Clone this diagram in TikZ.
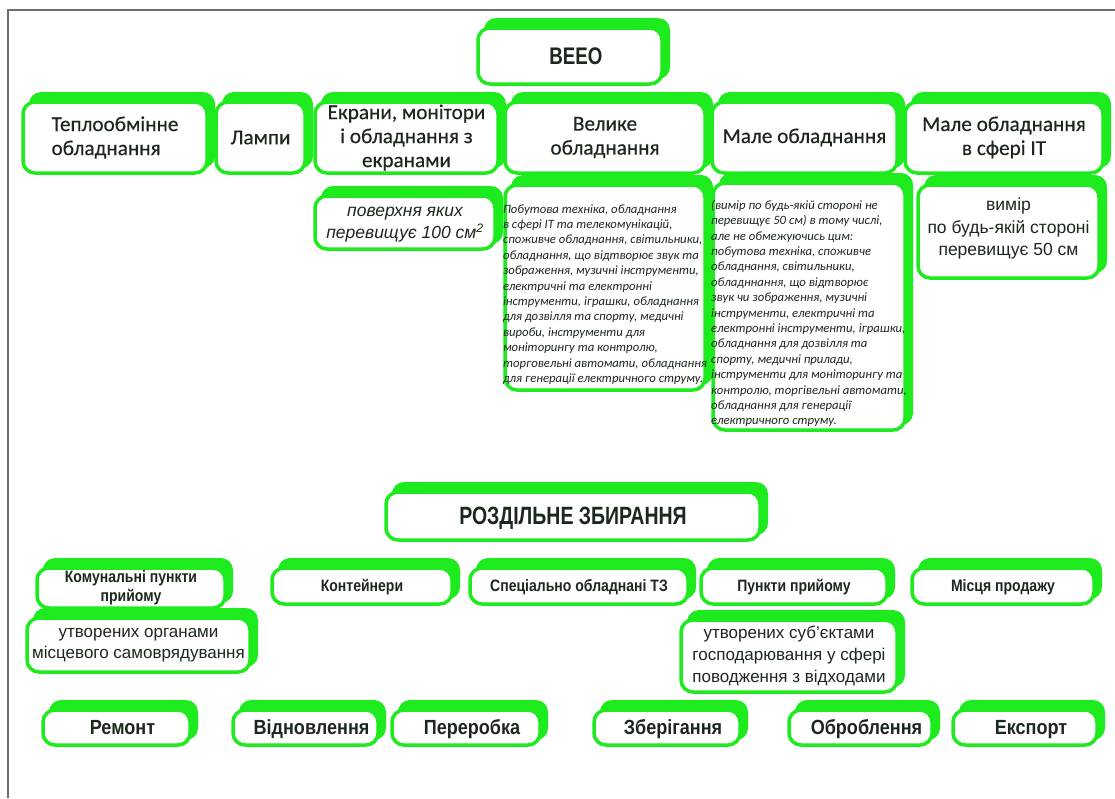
\documentclass[tikz,border=0pt]{standalone}
\usepackage{fontspec}
\setmainfont{Liberation Sans}
\newfontfamily\calfont[FakeBold=0.4]{Carlito}
\newfontfamily\calit{Carlito}
\newfontfamily\nbA[FakeStretch=0.78]{Liberation Sans}
\newfontfamily\nbB[FakeStretch=0.85]{Liberation Sans}
\newfontfamily\nbC[FakeStretch=0.88]{Liberation Sans}
\definecolor{gr}{RGB}{30,235,30}
\definecolor{tx}{RGB}{28,40,28}
\definecolor{framec}{RGB}{110,110,110}
\tikzset{
  gshadow/.style={fill=gr, rounded corners=12pt},
  gframe/.style={draw=gr, line width=3.5pt, fill=white, rounded corners=12pt},
  gtext/.style={text=tx, inner sep=0pt, align=center},
  ttl/.style={font=\calfont\fontsize{21.2}{24}\selectfont},
  desc/.style={font=\calit\itshape\fontsize{12.7}{15.4}\selectfont, align=left},
  bigb/.style={font=\nbA\bfseries\fontsize{#1}{26}\selectfont, text height=0.716*#1pt, text depth=0pt},
  midb/.style={font=\nbB\bfseries\fontsize{16.5}{19}\selectfont},
  midone/.style={midb, text height=11.8pt, text depth=0pt},
  botb/.style={font=\nbC\bfseries\fontsize{20.5}{24}\selectfont, xshift=6pt, text height=14.7pt, text depth=0pt},
}
% [shift] name x1 y1 x2 y2 options text
\newcommand\gbox[8][0,0]{%
  \fill[gshadow] (#3+6,#4-10) rectangle (#5+8,#6-5);
  \draw[gframe] (#3,#4) rectangle (#5,#6);
  \node[gtext, shift={(#1)}, #7] (#2) at ({(#3+#5)/2},{(#4+#6)/2}) {#8};
}
\begin{document}
\begin{tikzpicture}[x=1pt,y=-1pt]
\useasboundingbox (0,0) rectangle (1115,798);
\fill[white] (0,0) rectangle (1115,798);
\draw[framec, line width=1.2pt] (8,798) -- (8,10) -- (1115,10);

% title
\gbox[6,0]{beeo}{478}{28}{662}{84}{bigb=24}{ВЕЕО}

% row 2
\gbox{teplo}{23}{102}{207}{173}{ttl, align=left}{Теплообмінне\\обладнання}
\gbox{lampy}{216}{102}{305}{173}{ttl}{Лампи}
\gbox{ekrany}{315}{102}{498}{173}{ttl}{Екрани, монітори\\і обладнання з\\екранами}
\gbox{velyke}{505}{102}{705}{173}{ttl}{Велике\\обладнання}
\gbox{male}{712}{102}{897}{173}{ttl}{Мале обладнання}
\gbox{maleit}{905}{102}{1103}{173}{ttl}{Мале обладнання\\в сфері IT}

% row 3
\gbox[0,2]{poverh}{315}{196}{495}{249}{font=\itshape\fontsize{17.5}{22}\selectfont}{поверхня яких\\перевищує 100 см\textsuperscript{2}}
\gbox[0,7]{velyked}{505}{185}{705}{390}{desc}{Побутова техніка, обладнання\\в сфері IT та телекомунікацій,\\споживче обладнання, світильники,\\обладнання, що відтворює звук та\\зображення, музичні інструменти,\\електричні та електронні\\інструменти, іграшки, обладнання\\для дозвілля та спорту, медичні\\вироби, інструменти для\\моніторингу та контролю,\\торговельні автомати, обладнання\\для генерації електричного струму.}
\gbox[0,7]{maled}{713}{183}{905}{430}{desc}{(вимір по будь-якій стороні не\\перевищує 50 см) в тому числі,\\але не обмежуючись цим:\\побутова техніка, споживче\\обладнання, світильники,\\обладннання, що відтворює\\звук чи зображення, музичні\\інструменти, електричні та\\електронні інструменти, іграшки,\\обладнання для дозвілля та\\спорту, медичні прилади,\\інструменти для моніторингу та\\контролю, торгівельні автомати,\\обладнання для генерації\\електричного струму.}
\gbox[0,-3]{vymir}{918}{185}{1099}{278}{font=\fontsize{17.5}{22.5}\selectfont}{вимір\\по будь-якій стороні\\перевищує 50 см}

% separate collection
\gbox{rozd}{386}{492}{760}{540}{bigb=25}{РОЗДІЛЬНЕ ЗБИРАННЯ}
\gbox{komun}{37}{568}{225}{608}{midb}{Комунальні пункти\\прийому}
\gbox{kont}{272}{568}{452}{604}{midone}{Контейнери}
\gbox{spec}{470}{568}{688}{604}{midone}{Спеціально обладнані ТЗ}
\gbox{punkty}{701}{568}{887}{604}{midone}{Пункти прийому}
\gbox{mists}{912}{568}{1094}{604}{midone}{Місця продажу}
\gbox{orhan}{27}{618}{250}{672}{font=\fontsize{17}{21}\selectfont}{утворених органами\\місцевого самоврядування}
\gbox{subj}{681}{620}{897}{692}{font=\fontsize{17}{22}\selectfont}{утворених суб'єктами\\господарювання у сфері\\поводження з відходами}

% bottom row
\gbox{remont}{43}{710}{190}{745}{botb}{Ремонт}
\gbox{vidnov}{233}{710}{378}{745}{botb}{Відновлення}
\gbox{perer}{392}{710}{540}{745}{botb}{Переробка}
\gbox{zber}{594}{710}{740}{745}{botb}{Зберігання}
\gbox{obrob}{789}{710}{932}{745}{botb}{Оброблення}
\gbox{eksport}{953}{710}{1097}{745}{botb}{Експорт}
\end{tikzpicture}
\end{document}
